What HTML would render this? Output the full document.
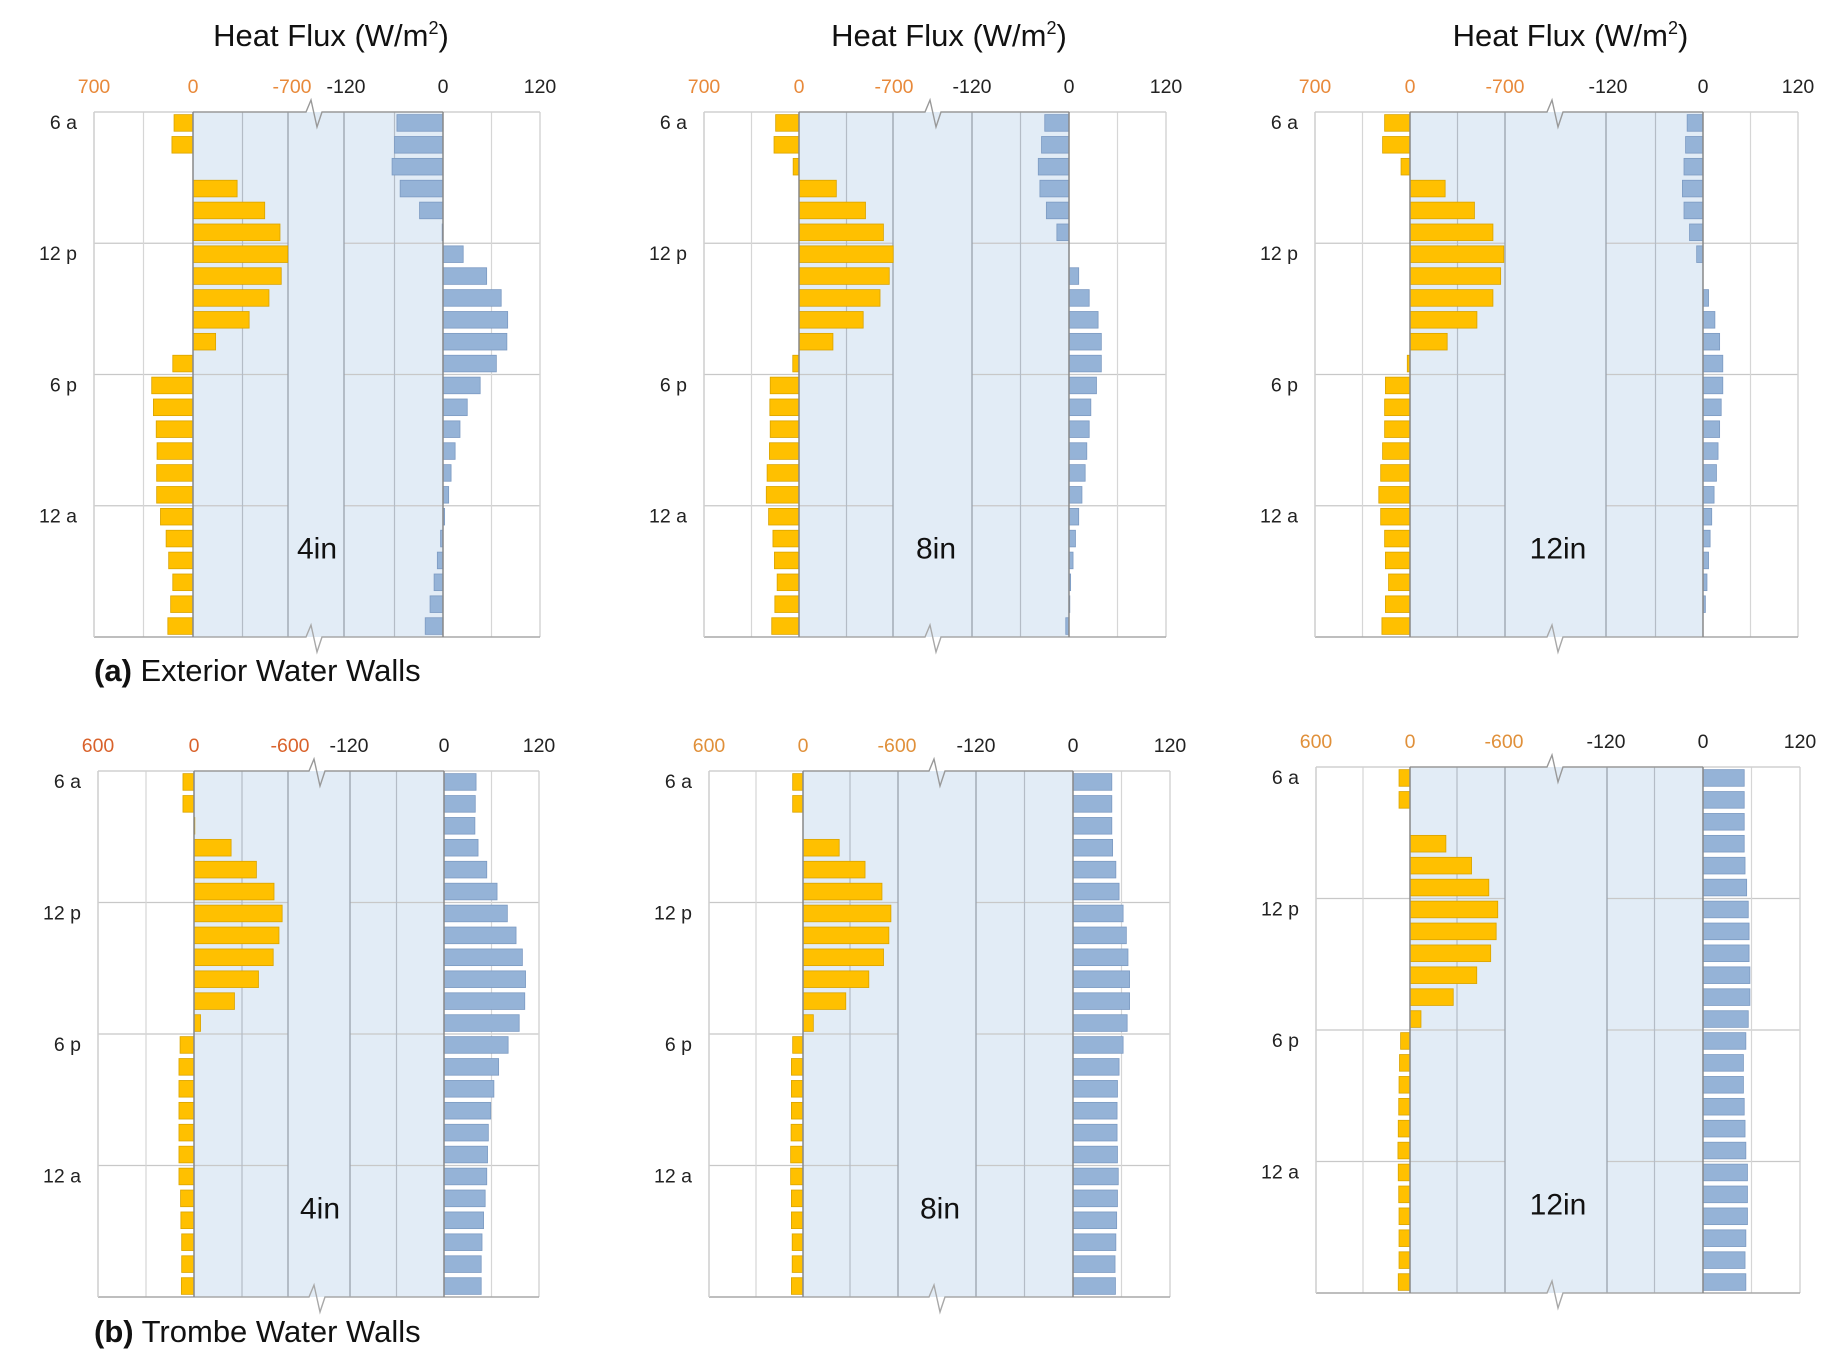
<!DOCTYPE html>
<html><head><meta charset="utf-8"><style>
html,body{margin:0;padding:0;background:#fff;}
svg{display:block;font-family:"Liberation Sans",Arial,sans-serif;}
</style></head><body>
<svg id="chart" width="1837" height="1352" viewBox="0 0 1837 1352" xmlns="http://www.w3.org/2000/svg"></svg>
<script>
const hourLabels = ["6 a","12 p","6 p","12 a"];
const hourLabelRows = [0,6,12,18];
const leftTicksA = ["700","0","-700"];
const leftTicksB = ["600","0","-600"];
const rightTicks = ["-120","0","120"];
const thicknessLabels = ["4in","8in","12in","4in","8in","12in"];
// Orange (left axis, positive = left), W/m2
const orangeExt4 = [134,149,0,-312,-507,-615,-670,-624,-537,-397,-160,143,292,280,260,254,257,257,230,190,172,143,158,178];
const orangeExt8 = [172,184,43,-275,-490,-622,-694,-665,-597,-473,-250,46,212,215,212,218,235,241,224,192,181,161,178,201];
const orangeExt12 = [187,202,66,-259,-475,-611,-691,-668,-611,-493,-274,20,181,187,187,202,216,230,216,187,181,158,181,207];
const orangeTro4 = [69,69,-5,-232,-390,-500,-551,-531,-495,-403,-253,-41,87,94,94,94,94,94,94,84,82,77,77,79];
const orangeTro8 = [66,66,-3,-231,-396,-504,-561,-548,-514,-420,-273,-66,66,74,74,74,76,79,79,74,74,69,69,74];
const orangeTro12 = [70,70,-3,-229,-393,-503,-560,-550,-515,-426,-276,-70,60,67,70,72,75,77,75,72,70,70,70,75];
// Blue (right axis)
const blueExt4 = [-57,-60,-63,-53,-29,-1,25,54,72,80,79,66,46,30,21,15,10,7,2,-3,-7,-11,-16,-22];
const blueExt8 = [-30,-34,-38,-36,-28,-15,0,12,25,36,40,40,34,27,25,22,20,16,12,8,5,2,1,-4];
const blueExt12 = [-20,-22,-24,-26,-24,-17,-8,0,7,15,21,25,25,23,21,19,17,14,11,9,7,5,3,0.5];
const blueTro4 = [40.5,39.5,39,43,54,67,80,91,99,103,102,95,81,69,63,59,56,55,54,52,50,48,47,47];
const blueTro8 = [48,48,48,49,53,57,62,66,68,70,70,67,62,57,55,54.5,54.5,55,56,55,54,53,52,52.5];
const blueTro12 = [51,51,51,51,52,54,56,57,57,58,58,56,53,50,50,51,52,53,55,55,55,53,52,53];

const NS="http://www.w3.org/2000/svg";
const svg=document.getElementById('chart');
function mk(tag,attrs,parent){const e=document.createElementNS(NS,tag);for(const k in attrs)e.setAttribute(k,attrs[k]);(parent||svg).appendChild(e);return e;}

const panels=[
 {L:94,z:193,m:288,bx:316,n:344,z2:443,R:540,top:112,bot:637,lim:700,ticks:leftTicksA,tc:"#E8893A",o:orangeExt4,b:blueExt4,name:"exterior-4in"},
 {L:704,z:799,m:893,bx:935,n:972,z2:1069,R:1166,top:112,bot:637,lim:700,ticks:leftTicksA,tc:"#E8893A",o:orangeExt8,b:blueExt8,name:"exterior-8in"},
 {L:1315,z:1410,m:1505,bx:1557,n:1606,z2:1703,R:1798,top:112,bot:637,lim:700,ticks:leftTicksA,tc:"#E8893A",o:orangeExt12,b:blueExt12,name:"exterior-12in"},
 {L:98,z:194,m:288,bx:319,n:350,z2:444,R:539,top:771,bot:1297,lim:600,ticks:leftTicksB,tc:"#D9622B",o:orangeTro4,b:blueTro4,name:"trombe-4in"},
 {L:709,z:803,m:898,bx:939,n:976,z2:1073,R:1170,top:771,bot:1297,lim:600,ticks:leftTicksB,tc:"#E0903A",o:orangeTro8,b:blueTro8,name:"trombe-8in"},
 {L:1316,z:1410,m:1505,bx:1557,n:1607,z2:1703,R:1800,top:767,bot:1293,lim:600,ticks:leftTicksB,tc:"#E0903A",o:orangeTro12,b:blueTro12,name:"trombe-12in"}
];

panels.forEach((p,pi)=>{
  const g=mk('g',{});
  
  
  const xl=v=>p.z-v*(p.z-p.L)/p.lim;
  const xr=v=>p.z2+v*(p.R-p.z2)/120;
  const rows=24, rh=(p.bot-p.top)/rows, bh=rh*0.76;
  const sh=mk('rect',{x:p.z,y:p.top,width:p.z2-p.z,height:p.bot-p.top,fill:"#E2ECF6"},g);
  
  
  for(let k=1;k<4;k++){
    const y=p.top+k*6*rh;
    mk('line',{x1:p.L,x2:p.m,y1:y,y2:y,stroke:"#c8c8c8","stroke-width":1.2},g);
    mk('line',{x1:p.n,x2:p.R,y1:y,y2:y,stroke:"#c8c8c8","stroke-width":1.2},g);
  }
  [p.lim,p.lim/2,-p.lim/2].forEach(v=>{mk('line',{x1:xl(v),x2:xl(v),y1:p.top,y2:p.bot,stroke:(v<0?"#b4bcc6":"#d6d6d6"),"stroke-width":1.2},g);});
  [-60,60].forEach(v=>{mk('line',{x1:xr(v),x2:xr(v),y1:p.top,y2:p.bot,stroke:(v<0?"#b4bcc6":"#d6d6d6"),"stroke-width":1.2},g);});
  mk('line',{x1:p.R,x2:p.R,y1:p.top,y2:p.bot,stroke:"#d6d6d6","stroke-width":1.5},g);
  mk('line',{x1:p.m,x2:p.m,y1:p.top,y2:p.bot,stroke:"#9aa2ac","stroke-width":1.3},g);
  mk('line',{x1:p.n,x2:p.n,y1:p.top,y2:p.bot,stroke:"#9aa2ac","stroke-width":1.3},g);
  const zz=(y)=>`M${p.L},${y} L${p.bx-10},${y} L${p.bx-5},${y-12} L${p.bx+1},${y+15} L${p.bx+6},${y} L${p.R},${y}`;
  mk('path',{d:`M${p.L},${p.top} L${p.z},${p.top}`,stroke:"#d0d0d0","stroke-width":1.5,fill:"none"},g);
  mk('path',{d:`M${p.z},${p.top} L${p.bx-10},${p.top} L${p.bx-5},${p.top-12} L${p.bx+1},${p.top+15} L${p.bx+6},${p.top} L${p.z2},${p.top}`,stroke:"#999","stroke-width":1.4,fill:"none"},g);
  mk('path',{d:`M${p.z2},${p.top} L${p.R},${p.top}`,stroke:"#d0d0d0","stroke-width":1.5,fill:"none"},g);
  mk('path',{d:zz(p.bot),stroke:"#a8a8a8","stroke-width":1.4,fill:"none"},g);
  mk('line',{x1:p.L,x2:p.L,y1:p.top,y2:p.bot,stroke:"#d0d0d0","stroke-width":1.5},g);
  p.o.forEach((v,i)=>{
    const y=p.top+i*rh+(rh-bh)/2, x0=xl(0), x1=xl(v);
    if(Math.abs(x1-x0)<0.5) return;
    const r=mk('rect',{x:Math.min(x0,x1),y:y,width:Math.abs(x1-x0),height:bh,fill:"#FFC000",stroke:"#D9A300","stroke-width":0.8},g);
    
    
  });
  p.b.forEach((v,i)=>{
    const y=p.top+i*rh+(rh-bh)/2, x0=xr(0), x1=xr(v);
    if(Math.abs(x1-x0)<0.5) return;
    const r=mk('rect',{x:Math.min(x0,x1),y:y,width:Math.abs(x1-x0),height:bh,fill:"#95B3D7",stroke:"#7C9AC2","stroke-width":0.8},g);
    
    
  });
  mk('line',{x1:p.z,x2:p.z,y1:p.top,y2:p.bot,stroke:"#888","stroke-width":1.5},g);
  mk('line',{x1:p.z2,x2:p.z2,y1:p.top,y2:p.bot,stroke:"#888","stroke-width":1.5},g);
  const ty=p.top-19;
  [p.lim,0,-p.lim].forEach((v,k)=>{
    const t=mk('text',{x:xl(v),y:ty,"text-anchor":"middle","font-size":19.5,fill:p.tc},g);
    t.textContent=p.ticks[k];
    
    
  });
  [-120,0,120].forEach((v,k)=>{
    const t=mk('text',{x:xr(v),y:ty,"text-anchor":"middle","font-size":19.5,fill:"#222"},g);
    t.textContent=rightTicks[k];
    
    
  });
  hourLabels.forEach((lab,k)=>{
    const t=mk('text',{x:p.L-17,y:p.top+(hourLabelRows[k]+0.5)*rh+6,"text-anchor":"end","font-size":19.5,fill:"#222"},g);
    t.textContent=lab;
    
    
  });
  const th=mk('text',{x:p.bx+1,y:p.top+19.5*rh+20,"text-anchor":"middle","font-size":30,fill:"#111"},g);
  th.textContent=thicknessLabels[pi];
  
  
  if(pi<3){
    const tt=mk('text',{x:(p.L+p.R)/2+14,y:46,"text-anchor":"middle","font-size":31,fill:"#111"},g);
    tt.innerHTML='Heat Flux (W/m<tspan font-size="18" dy="-12">2</tspan><tspan dy="12">)</tspan>';
    
    
  }
});
const ca=mk('text',{x:94,y:681,"font-size":31,fill:"#111"});
ca.innerHTML='<tspan font-weight="bold">(a)</tspan> Exterior Water Walls';


const cb=mk('text',{x:94,y:1342,"font-size":31,fill:"#111"});
cb.innerHTML='<tspan font-weight="bold">(b)</tspan> Trombe Water Walls';


</script>
</body></html>
